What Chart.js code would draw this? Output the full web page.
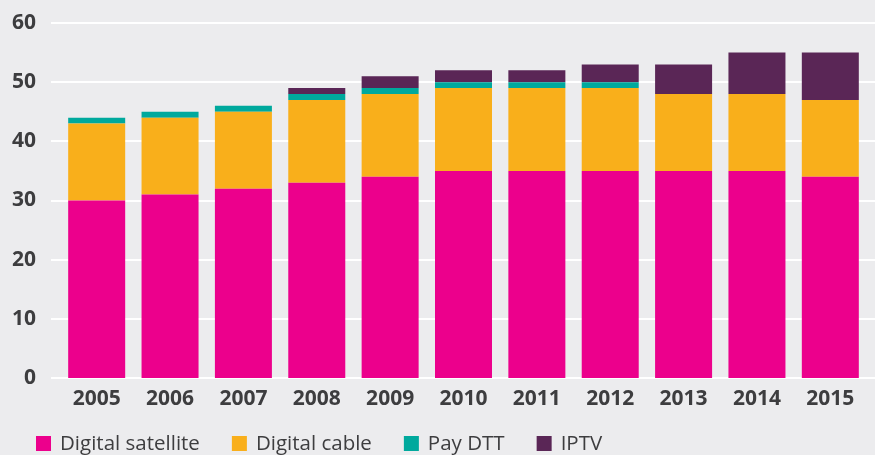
<!DOCTYPE html>
<html>
<head>
<meta charset="utf-8">
<script src="https://cdn.jsdelivr.net/npm/chart.js@4"></script>
<style>
  html, body { margin: 0; padding: 0; background: #ececee; }
  #wrap { width: 875px; height: 455px; }
</style>
</head>
<body>
<div id="wrap"><canvas id="tvChart" width="875" height="455"></canvas></div>
<script>
// ---------- Data (millions of homes) ----------
const years = ['2005', '2006', '2007', '2008', '2009', '2010', '2011', '2012', '2013', '2014', '2015'];
const satellite = [30, 31, 32, 33, 34, 35, 35, 35, 35, 35, 34];
const cable     = [13, 13, 13, 14, 14, 14, 14, 14, 13, 13, 13];
const payDtt    = [1, 1, 1, 1, 1, 1, 1, 1, 0, 0, 0];
const iptv      = [0, 0, 0, 1, 2, 2, 2, 3, 5, 7, 8];
const yTicks    = [0, 10, 20, 30, 40, 50, 60];

const textColor = '#3d3d3f';

// white gridlines, running a little past the plot on both sides
const gridLines = {
  id: 'gridLines',
  beforeDatasetsDraw(chart) {
    const { ctx, scales: { y }, chartArea } = chart;
    ctx.save();
    ctx.strokeStyle = '#ffffff';
    ctx.lineWidth = 2;
    yTicks.forEach(v => {
      const py = Math.round(y.getPixelForValue(v));
      ctx.beginPath();
      ctx.moveTo(chartArea.left - 9, py);
      ctx.lineTo(chart.width, py);
      ctx.stroke();
    });
    ctx.restore();
  }
};

// single-row legend along the bottom edge
const legendRow = {
  id: 'legendRow',
  afterDraw(chart) {
    const { ctx } = chart;
    ctx.save();
    ctx.font = '20.5px "Open Sans"';
    ctx.textBaseline = 'alphabetic';
    let x = 36;
    chart.data.datasets.forEach(ds => {
      ctx.fillStyle = ds.backgroundColor;
      ctx.fillRect(x, 436, 15, 15);
      ctx.fillStyle = textColor;
      ctx.fillText(ds.label, x + 24, 450);
      x += 24 + ctx.measureText(ds.label).width + 32;
    });
    ctx.restore();
  }
};

const bar = (label, data, color) => ({
  label, data, backgroundColor: color, borderWidth: 0,
  categoryPercentage: 1, barPercentage: 0.777
});

new Chart(document.getElementById('tvChart'), {
  type: 'bar',
  data: {
    labels: years,
    datasets: [
      bar('Digital satellite', satellite, '#ec008c'),
      bar('Digital cable', cable, '#f9af1b'),
      bar('Pay DTT', payDtt, '#00a99d'),
      bar('IPTV', iptv, '#5a2656')
    ]
  },
  options: {
    responsive: false,
    animation: false,
    layout: { padding: { top: 23, right: 8, bottom: 0, left: 0 } },
    plugins: {
      tooltip: { enabled: false },
      legend: { display: false }
    },
    scales: {
      x: {
        stacked: true,
        grid: { display: false },
        border: { display: false },
        ticks: { color: textColor, padding: 0, font: { family: 'Open Sans', size: 21, weight: 'bold' } },
        afterFit: s => { s.height = 77; }
      },
      y: {
        stacked: true,
        min: 0,
        max: 60,
        grid: { display: false },
        border: { display: false },
        ticks: { stepSize: 10, color: textColor, padding: 16, font: { family: 'Open Sans', size: 21, weight: 'bold' } },
        afterFit: s => { s.width = 60; s.paddingTop = 0; s.paddingBottom = 0; }
      }
    }
  },
  plugins: [gridLines, legendRow]
});
</script>
</body>
</html>
